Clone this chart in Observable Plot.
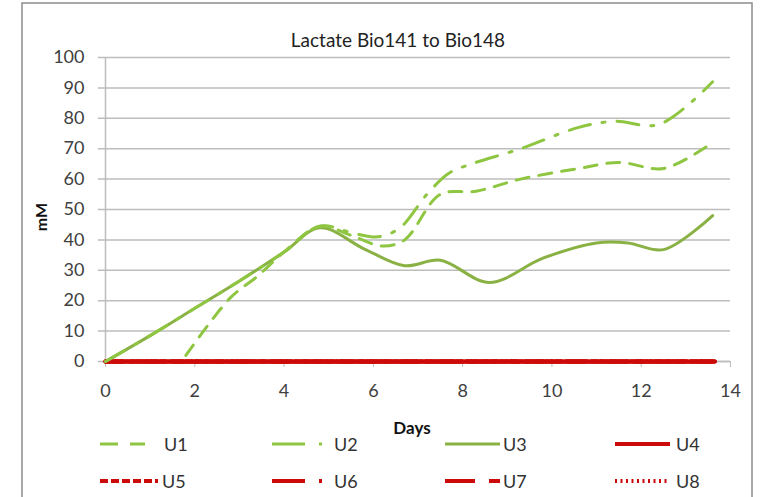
<!DOCTYPE html>
<html>
<head>
<meta charset="utf-8">
<script src="https://cdn.jsdelivr.net/npm/d3@7"></script>
<script src="https://cdn.jsdelivr.net/npm/@observablehq/plot@0.6"></script>
<style>
  html, body { margin: 0; padding: 0; background: #fff; }
  svg { display: block; }
</style>
</head>
<body>
<div id="chart"></div>
<script>
const title = "Lactate Bio141 to Bio148";
const xLabel = "Days";
const yLabel = "mM";
const xTicks = [0, 2, 4, 6, 8, 10, 12, 14];
const yTicks = [0, 10, 20, 30, 40, 50, 60, 70, 80, 90, 100];

const u1Days   = [1.8, 2.8, 3.4, 4.0, 4.8, 5.5, 6.2, 6.7, 7.5, 8.3, 9.3, 10.6, 11.5, 12.5, 13.6];
const u1Values = [2, 21, 28, 36, 44.5, 41.5, 38, 40, 55, 56, 60, 63.5, 65.5, 63.5, 72];
const u2Days   = [0, 1, 2, 3, 4, 4.8, 5.6, 6.1, 6.6, 7.2, 7.7, 8.2, 9.3, 10.6, 11.4, 12.4, 13.6];
const u2Values = [0, 8.5, 17.5, 26.5, 36, 44.5, 42, 41, 44, 55, 62, 65, 70, 77, 79, 78, 92];
const u3Days   = [0, 1, 2, 3, 4, 4.8, 5.8, 6.7, 7.5, 8.6, 9.8, 11.0, 11.7, 12.5, 13.6];
const u3Values = [0, 8.5, 17.5, 26.5, 36, 44, 37, 31.5, 33.3, 26, 34, 39, 39, 36.8, 48];
const redDays   = [0, 13.65];
const u4Values = [0, 0];
const u5Values = [0, 0];
const u6Values = [0, 0];
const u7Values = [0, 0];
const u8Values = [0, 0];

const green = "#8fc641";
const olive = "#89b144";
const red = "#cc0a0a";

const series = [
  {name: "U1", days: u1Days, values: u1Values, stroke: green, dash: "13,10", width: 3},
  {name: "U2", days: u2Days, values: u2Values, stroke: green, dash: "22,12,3,12", width: 3},
  {name: "U3", days: u3Days, values: u3Values, stroke: olive, dash: null, width: 3},
  {name: "U4", days: redDays, values: u4Values, stroke: red, dash: null, width: 4},
  {name: "U5", days: redDays, values: u5Values, stroke: red, dash: "6,3", width: 4},
  {name: "U6", days: redDays, values: u6Values, stroke: red, dash: "18,6,3,6", width: 4},
  {name: "U7", days: redDays, values: u7Values, stroke: red, dash: "18,8,8,8", width: 4},
  {name: "U8", days: redDays, values: u8Values, stroke: red, dash: "2,3", width: 4}
];

const tables = series.map(s => s.days.map((d, i) => ({series: s.name, day: d, value: s.values[i]})));

const font = "Lato, 'Open Sans', sans-serif";
const W = 760, H = 497;

const lineMarks = series.slice().reverse().map((s) => {
  const t = tables[series.indexOf(s)];
  return Plot.line(t, {
    x: "day", y: "value",
    stroke: s.stroke, strokeWidth: s.width,
    strokeDasharray: s.dash || undefined,
    curve: "catmull-rom"
  });
});

const chart = Plot.plot({
  width: W, height: H,
  marginLeft: 105, marginRight: 30, marginTop: 57, marginBottom: 136,
  style: {fontFamily: font, fontSize: "18px", color: "#404040", background: "#fff"},
  x: {domain: [0, 14], ticks: xTicks, label: null},
  y: {domain: [0, 100], ticks: yTicks, label: null},
  marks: [
    Plot.gridY(yTicks, {stroke: "#bdbdbd", strokeOpacity: 1, strokeWidth: 1.5, x1: -0.16, x2: 14}),
    Plot.ruleX([0], {stroke: "#bdbdbd", strokeWidth: 1.5}),
    Plot.ruleY([0], {stroke: "#bdbdbd", strokeWidth: 1.5}),
    Plot.axisX(xTicks, {tickSize: 6, tickPadding: 17, stroke: "#bdbdbd", fill: "#404040", fontSize: 18}),
    Plot.axisY(yTicks, {tickSize: 0, tickPadding: 21, fill: "#404040", fontSize: 18}),
    ...lineMarks
  ]
});

document.getElementById("chart").appendChild(chart);

const svg = d3.select(chart);
// outer frame
svg.insert("rect", ":first-child")
  .attr("x", 22).attr("y", 3).attr("width", 730).attr("height", 500)
  .attr("fill", "#fff").attr("stroke", "#8c8c8c").attr("stroke-width", 1.5);

svg.append("text").text(title)
  .attr("x", 398).attr("y", 47).attr("text-anchor", "middle")
  .attr("font-family", font).attr("font-size", 19).attr("fill", "#222");

svg.append("text").text(yLabel)
  .attr("transform", "translate(47,217) rotate(-90)").attr("text-anchor", "middle")
  .attr("font-family", font).attr("font-size", 16).attr("font-weight", "bold").attr("fill", "#111");

svg.append("text").text(xLabel)
  .attr("x", 412).attr("y", 434).attr("text-anchor", "middle")
  .attr("font-family", font).attr("font-size", 17).attr("font-weight", "bold").attr("fill", "#111");

// legend
const legendPos = [
  {x0: 100, x1: 145, lx: 164, y: 444, dash: "18,12"},
  {x0: 272, x1: 322, lx: 334, y: 444, dash: "33,14,3,20"},
  {x0: 445, x1: 500, lx: 503, y: 444, dash: null},
  {x0: 615, x1: 670, lx: 676, y: 444, dash: null},
  {x0: 100, x1: 158, lx: 162, y: 481, dash: "8,3"},
  {x0: 272, x1: 322, lx: 334, y: 481, dash: "33,14,3,20"},
  {x0: 445, x1: 500, lx: 503, y: 481, dash: "30,14,11,20"},
  {x0: 615, x1: 670, lx: 676, y: 481, dash: "2,3.5"}
];
const leg = svg.append("g").attr("text-anchor", "start");
series.forEach((s, i) => {
  const p = legendPos[i];
  leg.append("line").attr("x1", p.x0).attr("x2", p.x1).attr("y1", p.y).attr("y2", p.y)
    .attr("stroke", s.stroke).attr("stroke-width", s.width)
    .attr("stroke-dasharray", p.dash);
  leg.append("text").text(s.name).attr("x", p.lx).attr("y", p.y + 7)
    .attr("text-anchor", "start")
    .attr("font-family", font).attr("font-size", 18).attr("fill", "#333");
});
</script>
</body>
</html>
